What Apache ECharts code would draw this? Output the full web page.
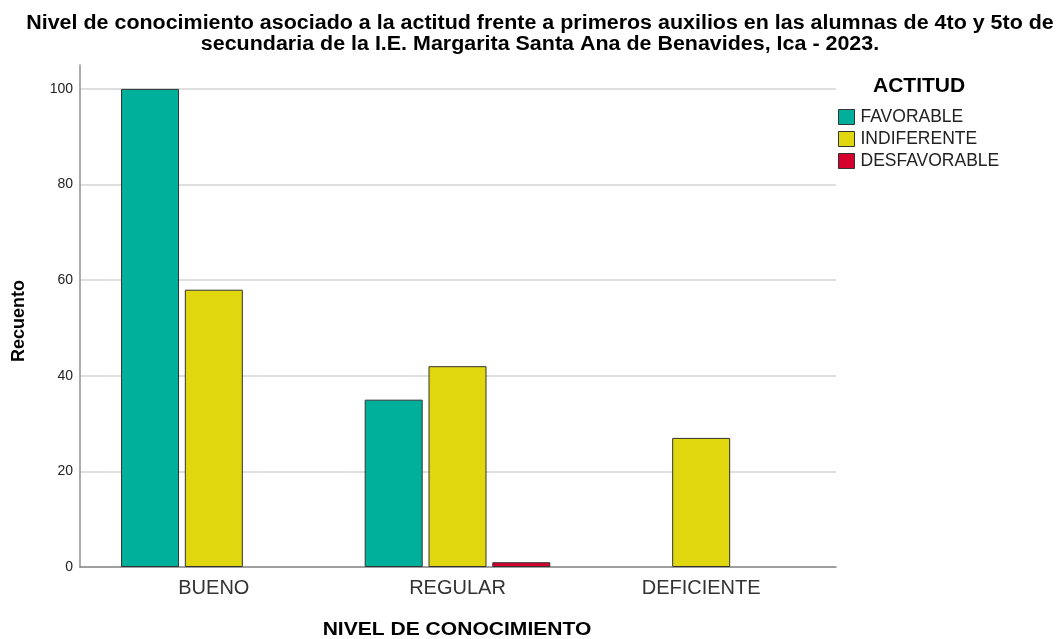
<!DOCTYPE html>
<html>
<head>
<meta charset="utf-8">
<script src="https://cdn.jsdelivr.net/npm/echarts@6/dist/echarts.min.js"></script>
<style>html,body{margin:0;padding:0;background:#fff}#c{width:1062px;height:639px}</style>
</head>
<body>
<div id="c"></div>
<script>
const categories = ['BUENO', 'REGULAR', 'DEFICIENTE'];
const favorable = [100, 35, null];
const indiferente = [58, 42, 27];
const desfavorable = [null, 1, null];
const seriesNames = ['FAVORABLE', 'INDIFERENTE', 'DESFAVORABLE'];
const yTicks = [0, 20, 40, 60, 80, 100];
const titleText = 'Nivel de conocimiento asociado a la actitud frente a primeros auxilios en las alumnas de 4to y 5to de\nsecundaria de la I.E. Margarita Santa Ana de Benavides, Ica - 2023.';
const legendTitle = 'ACTITUD';
const xName = 'NIVEL DE CONOCIMIENTO';
const yName = 'Recuento';

const FONT = '"Liberation Sans", Arial, sans-serif';
const colors = ['#00b09b', '#e1d70e', '#d5002e'];
const chart = echarts.init(document.getElementById('c'), null, {renderer: 'canvas'});

function bar(name, data, color) {
  return {
    name: name, type: 'bar', xAxisIndex: 1, yAxisIndex: 1, data: data,
    barWidth: 58, barGap: '10%',
    itemStyle: {color: color, borderColor: '#333', borderWidth: 1},
    emphasis: {disabled: true}, animation: false
  };
}

chart.setOption({
  animation: false,
  color: colors,
  graphic: [{
    type: 'text', x: 540, y: 13, scaleX: 1.1,
    style: {text: titleText, align: 'center', verticalAlign: 'top', fill: '#000',
      font: 'bold 19.5px ' + FONT, lineHeight: 21}
  }, {
    type: 'text', x: 457, y: 630, scaleX: 1.17,
    style: {text: xName, align: 'center', verticalAlign: 'middle', fill: '#000', font: 'bold 18px ' + FONT}
  }, {
    type: 'text', x: 19, y: 321, rotation: Math.PI / 2,
    style: {text: yName, align: 'center', verticalAlign: 'middle', fill: '#000', font: 'bold 18px ' + FONT}
  }, {
    type: 'text', x: 873, y: 86,
    style: {text: legendTitle, align: 'left', verticalAlign: 'middle', fill: '#000', font: 'bold 21px ' + FONT}
  }],
  legend: {
    orient: 'vertical', left: 833, top: 103, itemWidth: 16, itemHeight: 15, itemGap: 4,
    icon: 'rect', data: seriesNames,
    textStyle: {fontFamily: FONT, fontSize: 17.5, color: '#222', padding: [0, 0, 0, 1]},
    itemStyle: {borderColor: '#333', borderWidth: 1}
  },
  grid: [
    {left: 80, right: 226, top: 65, bottom: 72, containLabel: false, outerBoundsMode: 'none'},
    {left: 92, right: 239, top: 65, bottom: 72, containLabel: false, outerBoundsMode: 'none'}
  ],
  xAxis: [{
    gridIndex: 0, type: 'value', min: 0, max: 1,
    axisLine: {show: true, onZero: false, lineStyle: {color: '#808080', width: 1.5}},
    axisTick: {show: false}, axisLabel: {show: false}, splitLine: {show: false}
  }, {
    gridIndex: 1, type: 'category', data: categories,
    axisLine: {show: false}, axisTick: {show: false},
    axisLabel: {fontFamily: FONT, fontSize: 20, color: '#333', margin: 11}
  }],
  yAxis: [{
    gridIndex: 0, type: 'value', min: 0, max: 105, interval: 20,
    axisLine: {show: true, lineStyle: {color: '#909090', width: 1.5}},
    axisTick: {show: false},
    axisLabel: {fontFamily: FONT, fontSize: 14, color: '#222', margin: 7, showMaxLabel: false,
      formatter: v => yTicks.includes(v) ? String(v) : ''},
    splitLine: {show: true, showMaxLine: false, showMinLine: false, lineStyle: {color: '#d4d4d4', width: 1.5}}
  }, {
    gridIndex: 1, type: 'value', min: 0, max: 105, show: false
  }],
  series: [
    bar(seriesNames[0], favorable, colors[0]),
    bar(seriesNames[1], indiferente, colors[1]),
    bar(seriesNames[2], desfavorable, colors[2])
  ]
});
</script>
</body>
</html>
